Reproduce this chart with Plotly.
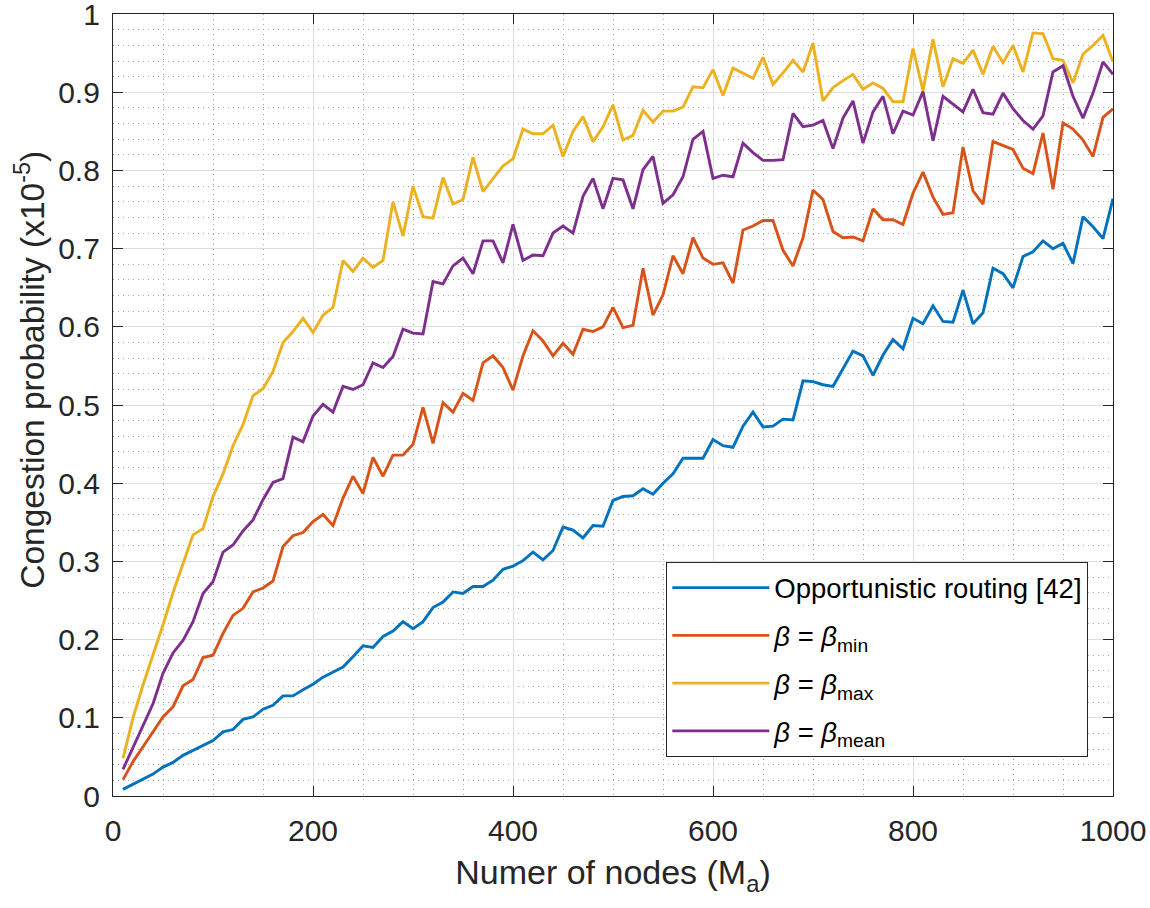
import plotly.graph_objects as go

nodes = [10, 20, 30, 40, 50, 60, 70, 80, 90, 100,
         110, 120, 130, 140, 150, 160, 170, 180, 190, 200,
         210, 220, 230, 240, 250, 260, 270, 280, 290, 300,
         310, 320, 330, 340, 350, 360, 370, 380, 390, 400,
         410, 420, 430, 440, 450, 460, 470, 480, 490, 500,
         510, 520, 530, 540, 550, 560, 570, 580, 590, 600,
         610, 620, 630, 640, 650, 660, 670, 680, 690, 700,
         710, 720, 730, 740, 750, 760, 770, 780, 790, 800,
         810, 820, 830, 840, 850, 860, 870, 880, 890, 900,
         910, 920, 930, 940, 950, 960, 970, 980, 990, 1000]

opportunistic = [0.0085, 0.015, 0.021, 0.028, 0.037, 0.043, 0.052, 0.058, 0.065, 0.071,
                 0.082, 0.085, 0.098, 0.101, 0.111, 0.116, 0.128, 0.128, 0.136, 0.143,
                 0.152, 0.159, 0.165, 0.178, 0.192, 0.190, 0.204, 0.211, 0.223, 0.214,
                 0.223, 0.241, 0.248, 0.261, 0.259, 0.268, 0.268, 0.276, 0.290, 0.294,
                 0.301, 0.312, 0.302, 0.314, 0.344, 0.340, 0.330, 0.346, 0.345, 0.378,
                 0.383, 0.384, 0.393, 0.386, 0.400, 0.412, 0.432, 0.432, 0.432, 0.456,
                 0.448, 0.446, 0.473, 0.491, 0.472, 0.473, 0.482, 0.481, 0.531, 0.530,
                 0.526, 0.524, 0.547, 0.569, 0.563, 0.538, 0.564, 0.584, 0.572, 0.611,
                 0.604, 0.627, 0.607, 0.606, 0.647, 0.604, 0.618, 0.675, 0.668, 0.650,
                 0.690, 0.696, 0.710, 0.700, 0.707, 0.681, 0.741, 0.728, 0.713, 0.764]

beta_min = [0.021, 0.044, 0.063, 0.082, 0.101, 0.114, 0.141, 0.149, 0.177, 0.180,
            0.208, 0.231, 0.240, 0.261, 0.266, 0.275, 0.319, 0.333, 0.337, 0.351,
            0.360, 0.346, 0.381, 0.409, 0.387, 0.433, 0.409, 0.436, 0.436, 0.450,
            0.497, 0.451, 0.503, 0.491, 0.515, 0.506, 0.554, 0.563, 0.548, 0.519,
            0.563, 0.595, 0.582, 0.563, 0.579, 0.565, 0.597, 0.594, 0.600, 0.625,
            0.599, 0.602, 0.675, 0.615, 0.641, 0.691, 0.668, 0.714, 0.688, 0.680,
            0.682, 0.656, 0.724, 0.729, 0.736, 0.736, 0.698, 0.678, 0.714, 0.775,
            0.763, 0.722, 0.714, 0.715, 0.710, 0.751, 0.737, 0.737, 0.731, 0.771,
            0.798, 0.766, 0.744, 0.746, 0.830, 0.774, 0.757, 0.837, 0.832, 0.827,
            0.803, 0.796, 0.848, 0.776, 0.861, 0.853, 0.839, 0.818, 0.868, 0.879]

beta_max = [0.048, 0.100, 0.142, 0.180, 0.219, 0.260, 0.296, 0.334, 0.342, 0.383,
            0.412, 0.448, 0.475, 0.512, 0.521, 0.543, 0.580, 0.594, 0.611, 0.593,
            0.615, 0.625, 0.685, 0.671, 0.688, 0.676, 0.685, 0.760, 0.716, 0.780,
            0.741, 0.739, 0.791, 0.757, 0.763, 0.817, 0.773, 0.790, 0.806, 0.815,
            0.853, 0.847, 0.847, 0.858, 0.818, 0.850, 0.869, 0.837, 0.856, 0.884,
            0.839, 0.845, 0.877, 0.862, 0.876, 0.876, 0.881, 0.907, 0.906, 0.929,
            0.896, 0.931, 0.924, 0.918, 0.945, 0.910, 0.925, 0.941, 0.926, 0.963,
            0.889, 0.906, 0.915, 0.923, 0.904, 0.912, 0.905, 0.888, 0.888, 0.956,
            0.902, 0.968, 0.907, 0.943, 0.937, 0.954, 0.923, 0.959, 0.938, 0.960,
            0.926, 0.976, 0.975, 0.943, 0.941, 0.912, 0.949, 0.960, 0.973, 0.939]

beta_mean = [0.034, 0.062, 0.089, 0.118, 0.157, 0.183, 0.199, 0.223, 0.259, 0.274,
             0.312, 0.321, 0.339, 0.353, 0.379, 0.401, 0.406, 0.459, 0.453, 0.486,
             0.501, 0.491, 0.524, 0.520, 0.526, 0.554, 0.548, 0.562, 0.597, 0.592,
             0.591, 0.658, 0.655, 0.678, 0.688, 0.668, 0.710, 0.710, 0.682, 0.731,
             0.685, 0.692, 0.691, 0.720, 0.729, 0.720, 0.767, 0.790, 0.751, 0.790,
             0.788, 0.751, 0.801, 0.818, 0.758, 0.769, 0.792, 0.840, 0.850, 0.790,
             0.794, 0.792, 0.835, 0.823, 0.813, 0.813, 0.814, 0.873, 0.856, 0.858,
             0.864, 0.828, 0.867, 0.889, 0.835, 0.875, 0.895, 0.847, 0.876, 0.871,
             0.901, 0.838, 0.895, 0.885, 0.875, 0.904, 0.874, 0.872, 0.899, 0.879,
             0.864, 0.853, 0.870, 0.926, 0.934, 0.895, 0.867, 0.899, 0.939, 0.923]

series_names = ["Opportunistic routing [42]",
                "<i>β</i> = <i>β</i><sub>min</sub>",
                "<i>β</i> = <i>β</i><sub>max</sub>",
                "<i>β</i> = <i>β</i><sub>mean</sub>"]
series_values = [opportunistic, beta_min, beta_max, beta_mean]
colors = ["#0072BD", "#D95319", "#EDB120", "#7E2F8E"]

x_ticks = [0, 200, 400, 600, 800, 1000]
y_ticks = [0, 0.1, 0.2, 0.3, 0.4, 0.5, 0.6, 0.7, 0.8, 0.9, 1]
y_tick_text = ["0", "0.1", "0.2", "0.3", "0.4", "0.5", "0.6", "0.7", "0.8", "0.9", "1"]

FONT = "Liberation Sans, Arial, Helvetica, sans-serif"
AXC = "#262626"

fig = go.Figure()
for i, (name, vals, col) in enumerate(zip(series_names, series_values, colors)):
    fig.add_trace(go.Scatter(x=nodes, y=vals, mode="lines", name=name,
                             legendgroup="g%d" % i,
                             line=dict(color=col, width=2.9)))

fig.update_layout(
    template="none",
    width=1150, height=908,
    paper_bgcolor="white", plot_bgcolor="white",
    margin=dict(l=113, r=37, t=14, b=112, autoexpand=False),
    font=dict(family=FONT, color=AXC, size=30),
    showlegend=True,
    legend=dict(x=0.975, xanchor="right", y=0.05, yanchor="bottom",
                bgcolor="white", bordercolor=AXC, borderwidth=1.3,
                font=dict(family=FONT, size=27.5, color="black"),
                tracegroupgap=9, itemwidth=97),
    annotations=[dict(text="Congestion probability (x10<sup>-5</sup>)",
                      xref="paper", yref="paper", x=-0.083, y=0.545,
                      xanchor="center", yanchor="middle", textangle=-90,
                      showarrow=False,
                      font=dict(family=FONT, size=33.5, color=AXC))],
)

axis_common = dict(
    showline=True, linecolor=AXC, linewidth=1.3, mirror="ticks",
    ticks="inside", ticklen=10, tickwidth=1.3, tickcolor=AXC,
    showgrid=True, gridcolor="#dedede", gridwidth=1.2,
    zeroline=False, automargin=False, ticklabeloverflow="allow",
    tickfont=dict(family=FONT, size=30, color=AXC),
)

fig.update_xaxes(
    range=[0, 1000], tickmode="array", tickvals=x_ticks,
    minor=dict(dtick=50, showgrid=True, griddash="1px,4px", gridcolor="#a6a6a6", gridwidth=1.1),
    title=dict(text="Numer of nodes (M<sub>a</sub>)", font=dict(family=FONT, size=34, color=AXC), standoff=14),
    ticklabelstandoff=8,
    **axis_common,
)
fig.update_yaxes(
    range=[0, 1.0002], tickmode="array", tickvals=y_ticks, ticktext=y_tick_text,
    minor=dict(dtick=0.02, showgrid=True, griddash="1px,4px", gridcolor="#a6a6a6", gridwidth=1.1),
    ticklabelstandoff=6,
    **axis_common,
)

fig.write_html("out.html",
               config={"displayModeBar": False},
               post_script="document.body.style.margin='0px';document.body.style.overflow='hidden';")
